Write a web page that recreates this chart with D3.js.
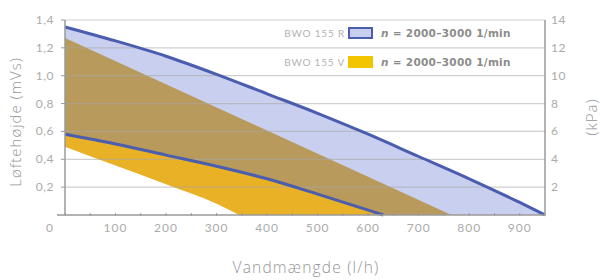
<!DOCTYPE html>
<html>
<head>
<meta charset="utf-8">
<script src="https://cdn.jsdelivr.net/npm/d3@7"></script>
<style>
  body { margin: 0; background: #fff; }
</style>
</head>
<body>
<div class="canvas"></div>
<script>
// flow values (l/h) and head (mVs)
const blueUpperX = [0, 100, 200, 300, 400, 500, 600, 700, 800, 900, 950]
const blueUpperY = [1.35, 1.25, 1.14, 1.01, 0.87, 0.73, 0.58, 0.42, 0.26, 0.09, 0]
const blueLowerX = [0, 100, 200, 300, 400, 500, 600, 630]
const blueLowerY = [0.58, 0.51, 0.43, 0.35, 0.26, 0.15, 0.035, 0]
const yellowUpperX = [0, 765]
const yellowUpperY = [1.27, 0]
const yellowLowerX = [0, 100, 200, 300, 345]
const yellowLowerY = [0.49, 0.355, 0.22, 0.08, 0]

const xTicks = [0, 100, 200, 300, 400, 500, 600, 700, 800, 900]
const xMinor = [0, 50, 100, 150, 200, 250, 300, 350, 400, 450, 500, 550, 600, 650, 700, 750, 800, 850, 900, 950]
const yTicks = [0.2, 0.4, 0.6, 0.8, 1.0, 1.2, 1.4]
const yTickLabels = ['0,2', '0,4', '0,6', '0,8', '1,0', '1,2', '1,4']
const kpaTicks = [2, 4, 6, 8, 10, 12, 14]

const legendNames = ['BWO 155 R', 'BWO 155 V']
const legendSpeed = ['2000–3000 1/min', '2000–3000 1/min']

const pts = (xs, ys) => xs.map((d, i) => [d, ys[i]])

const svg = d3.select('.canvas').append('svg')
    .attr('width', 600)
    .attr('height', 280)

const x = d3.scaleLinear().domain([0, 950]).range([65, 545])
const y = d3.scaleLinear().domain([0, 1.4]).range([215, 20])
const yKpa = d3.scaleLinear().domain([0, 14]).range([215, 20])

const line = d3.line()
    .x(d => x(d[0]))
    .y(d => y(d[1]))
    .curve(d3.curveMonotoneX)

// closed band between an upper and a lower curve
const band = (up, low) => line(up) + 'L' + line(low.slice().reverse()).slice(1) + 'Z'

const blueUp = pts(blueUpperX, blueUpperY)
const blueLow = pts(blueLowerX, blueLowerY)
const yelUp = pts(yellowUpperX, yellowUpperY)
const yelLow = pts(yellowLowerX, yellowLowerY)

const bluePath = band(blueUp, blueLow)
const yellowPath = band(yelUp, yelLow)

svg.append('clipPath')
    .attr('id', 'yclip')
    .append('path')
    .attr('d', yellowPath)

// yellow band, blue band, and where they overlap
svg.append('path')
    .attr('d', yellowPath)
    .attr('fill', '#e8b126')

svg.append('path')
    .attr('d', bluePath)
    .attr('fill', '#c9cfee')

svg.append('path')
    .attr('d', bluePath)
    .attr('fill', '#b89a5c')
    .attr('clip-path', 'url(#yclip)')

// grid
svg.append('g')
    .selectAll('line')
    .data(yTicks)
    .join('line')
    .attr('x1', x(0))
    .attr('x2', x(950))
    .attr('y1', d => y(d))
    .attr('y2', d => y(d))
    .attr('stroke', '#a8a8a8')
    .attr('stroke-opacity', 0.55)
    .attr('stroke-width', 1.2)

// curves
svg.append('path')
    .attr('d', line(blueUp))
    .attr('fill', 'none')
    .attr('stroke', '#4a5dae')
    .attr('stroke-width', 3)

svg.append('path')
    .attr('d', line(blueLow))
    .attr('fill', 'none')
    .attr('stroke', '#4a5dae')
    .attr('stroke-width', 3)

// axes lines
svg.append('line')
    .attr('x1', x(0)).attr('x2', x(0))
    .attr('y1', y(1.4)).attr('y2', y(0))
    .attr('stroke', '#9a9a9a')
    .attr('stroke-width', 1.5)

svg.append('line')
    .attr('x1', x(950)).attr('x2', x(950))
    .attr('y1', y(1.4)).attr('y2', y(0))
    .attr('stroke', '#9a9a9a')
    .attr('stroke-width', 1.5)

svg.append('line')
    .attr('x1', x(0) - 8).attr('x2', x(950))
    .attr('y1', y(0)).attr('y2', y(0))
    .attr('stroke', '#9a9a9a')
    .attr('stroke-width', 1.5)

svg.append('g')
    .selectAll('line')
    .data(xMinor)
    .join('line')
    .attr('x1', d => x(d)).attr('x2', d => x(d))
    .attr('y1', y(0) - 2).attr('y2', y(0) + 1)
    .attr('stroke', '#9a9a9a')

svg.append('g')
    .selectAll('line')
    .data(yTicks)
    .join('line')
    .attr('x1', x(0) - 4).attr('x2', x(0))
    .attr('y1', d => y(d)).attr('y2', d => y(d))
    .attr('stroke', '#9a9a9a')

// tick labels
const tickFont = 'Lato, sans-serif'

svg.append('g')
    .selectAll('text')
    .data(xTicks)
    .join('text')
    .attr('x', d => x(d))
    .attr('dx', d => d === 0 ? -15 : 0)
    .attr('y', 232)
    .attr('text-anchor', 'middle')
    .attr('fill', '#ababab')
    .style('font-family', tickFont)
    .style('font-size', '12px')
    .style('letter-spacing', '1px')
    .text(d => d)

svg.append('g')
    .selectAll('text')
    .data(yTicks)
    .join('text')
    .attr('x', 54)
    .attr('y', d => y(d) + 4)
    .attr('text-anchor', 'end')
    .attr('fill', '#ababab')
    .style('font-family', tickFont)
    .style('font-size', '12px')
    .style('letter-spacing', '0.5px')
    .text((d, i) => yTickLabels[i])

svg.append('g')
    .selectAll('text')
    .data(kpaTicks)
    .join('text')
    .attr('x', 551)
    .attr('y', d => yKpa(d) + 4)
    .attr('fill', '#ababab')
    .style('font-family', tickFont)
    .style('font-size', '12px')
    .style('letter-spacing', '0.5px')
    .text(d => d)

// axis titles
const titleFont = '"Open Sans", sans-serif'

svg.append('text')
    .attr('transform', 'translate(21,122) rotate(-90)')
    .attr('text-anchor', 'middle')
    .attr('fill', '#959595')
    .style('font-family', titleFont)
    .style('font-size', '15px')
    .style('font-weight', 300)
    .style('letter-spacing', '1px')
    .text('Løftehøjde (mVs)')

svg.append('text')
    .attr('transform', 'translate(597,117) rotate(-90)')
    .attr('text-anchor', 'middle')
    .attr('fill', '#959595')
    .style('font-family', titleFont)
    .style('font-size', '15px')
    .style('font-weight', 300)
    .style('letter-spacing', '1px')
    .text('(kPa)')

svg.append('text')
    .attr('x', 306)
    .attr('y', 273)
    .attr('text-anchor', 'middle')
    .attr('fill', '#959595')
    .style('font-family', titleFont)
    .style('font-size', '15.5px')
    .style('font-weight', 300)
    .style('letter-spacing', '1.2px')
    .text('Vandmængde (l/h)')

// legend
const legendRowY = [33, 62]
const swatchFill = ['#c9cfee', '#f2c500']
const swatchStroke = ['#4a5dae', '#f2c500']

const legend = svg.append('g')
    .selectAll('g')
    .data(legendNames)
    .join('g')
    .attr('transform', (d, i) => `translate(0,${legendRowY[i]})`)

legend.append('text')
    .attr('x', 345)
    .attr('y', 3.5)
    .attr('text-anchor', 'end')
    .attr('fill', '#b3b3b3')
    .style('font-family', tickFont)
    .style('font-size', '10px')
    .style('letter-spacing', '0.8px')
    .text(d => d)

legend.append('rect')
    .attr('x', 349)
    .attr('y', -5)
    .attr('width', 23)
    .attr('height', 10)
    .attr('fill', (d, i) => swatchFill[i])
    .attr('stroke', (d, i) => swatchStroke[i])
    .attr('stroke-width', 2)

const legendText = legend.append('text')
    .attr('x', 381)
    .attr('y', 3.5)
    .attr('fill', '#8c8c8c')
    .style('font-family', '"DejaVu Sans", sans-serif')
    .style('font-size', '10.5px')
    .style('font-weight', 'bold')
    .style('letter-spacing', '0.3px')

legendText.append('tspan')
    .style('font-style', 'italic')
    .text('n')

legendText.append('tspan')
    .text((d, i) => ' = ' + legendSpeed[i])
</script>
</body>
</html>
